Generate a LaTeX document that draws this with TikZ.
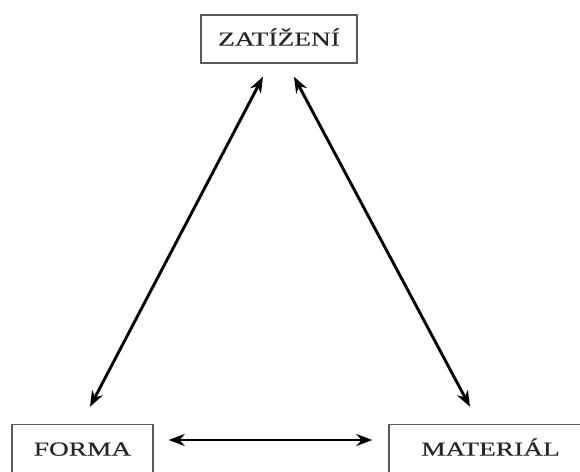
\documentclass[tikz,border=0pt]{standalone}
\usepackage{fontspec}
\setmainfont{Liberation Serif}[FakeStretch=1.37, FakeBold=0.5]
\usetikzlibrary{arrows.meta}
\begin{document}
\begin{tikzpicture}[x=1pt,y=-1pt,
  box/.style={draw=black!65, line width=1.4pt, fill=white, inner sep=0pt,
    font=\fontsize{20}{24}\selectfont, text=black!85, text height=13.3pt, text depth=0pt},
  dbl/.style={line width=2.9pt, {Stealth[length=16pt,width=12pt]}-{Stealth[length=16pt,width=12pt]}}]
  \useasboundingbox (0,0) rectangle (580,471);
  \clip (0,0) rectangle (580,471);
  \node[box, minimum width=156pt, minimum height=48pt] (load) at (279,39) {ZATÍŽENÍ};
  \node[box, minimum width=141pt, minimum height=49pt] (form) at (82.5,449) {FORMA};
  \node[box, minimum width=203pt, minimum height=49pt] (mat) at (490.5,449) {MATERIÁL};
  \draw[dbl] ([xshift=-16pt,yshift=-13pt]load.south) -- ([xshift=7.5pt,yshift=17pt]form.north);
  \draw[dbl] ([xshift=15pt,yshift=-13pt]load.south) -- ([xshift=-20.5pt,yshift=17pt]mat.north);
  \draw[dbl] ([xshift=15pt,yshift=9pt]form.east) -- ([xshift=-16pt,yshift=9pt]mat.west);
\end{tikzpicture}
\end{document}
